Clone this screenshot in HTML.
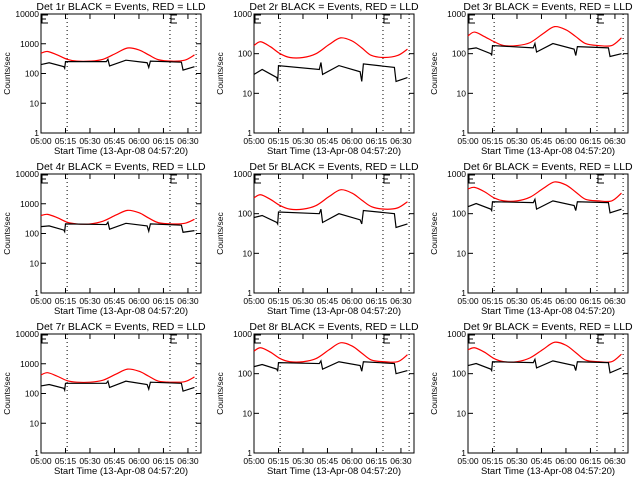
<!DOCTYPE html>
<html><head><meta charset="utf-8"><style>
body{margin:0;background:#fff}
svg{display:block;font-family:"Liberation Sans",sans-serif}
</style></head><body>
<svg id="c" width="640" height="480" xmlns="http://www.w3.org/2000/svg"></svg>
<script>
const panelNames = ["1r","2r","3r","4r","5r","6r","7r","8r","9r"];
const yMaxDecades = [4,3,3,4,3,3,4,3,3];
const xTickLabels = ["05:00","05:15","05:30","05:45","06:00","06:15","06:30"];
const xTickMinutes = [0,15,30,45,60,75,90];
const dottedMinutes = [16,79,95];
const eMarkMinutes = [0,79];
const redTimes = [0,4,10,16,22,30,38,46,53,60,66,72,80,88,94];
const blackTimes = [0,5,14,14.5,15,40,41,42,52,65,66,67,86,87,94];
const red1 = [480,550,420,300,260,260,300,480,720,620,420,290,260,280,420];
const red2 = [160,200,150,100,80,80,100,170,250,210,140,90,80,90,130];
const red3 = [280,350,270,200,160,160,190,320,480,400,270,180,160,160,250];
const red4 = [400,440,340,240,210,210,260,420,600,500,330,230,210,220,300];
const red5 = [250,300,230,160,130,130,160,270,400,330,220,150,130,140,200];
const red6 = [420,460,360,250,210,210,260,430,630,530,350,230,210,210,330];
const red7 = [420,500,380,270,240,240,280,450,660,560,380,260,240,250,360];
const red8 = [370,450,350,240,200,200,240,400,600,500,330,220,200,200,300];
const red9 = [400,450,350,240,200,200,250,410,620,520,340,220,200,200,310];
const black1 = [200,230,170,150,250,250,300,180,280,230,160,260,240,130,170];
const black2 = [30,40,25,20,50,40,60,30,50,35,20,55,45,20,25];
const black3 = [130,140,100,90,160,140,180,110,180,130,90,150,140,85,100];
const black4 = [170,180,130,115,210,200,240,140,220,180,120,210,190,110,125];
const black5 = [80,90,60,55,110,100,130,60,100,70,55,120,100,45,55];
const black6 = [150,180,130,120,200,190,230,130,210,160,120,200,190,105,130];
const black7 = [180,200,150,130,220,220,260,160,260,200,140,240,220,120,160];
const black8 = [150,170,130,115,190,180,210,130,200,160,115,200,180,100,120];
const black9 = [160,180,130,120,200,190,230,140,210,160,120,200,190,105,140];
const reds=[red1,red2,red3,red4,red5,red6,red7,red8,red9];
const blacks=[black1,black2,black3,black4,black5,black6,black7,black8,black9];

const svg=document.getElementById('c');
const NS="http://www.w3.org/2000/svg";
function mk(tag,attrs,parent){const e=document.createElementNS(NS,tag);for(const k in attrs)e.setAttribute(k,attrs[k]);(parent||svg).appendChild(e);return e;}
const colL=[41,254,468], rowT=[14,174,334], W=160, H=119, XMAX=98;

for(let p=0;p<9;p++){
  const L=colL[p%3], T=rowT[Math.floor(p/3)], B=T+H, R=L+W, dec=yMaxDecades[p];
  const g=mk('g',{});
  
  
  const xs=t=>L+t/XMAX*W;
  const ys=v=>B-Math.log10(v)/dec*H;
  const title=mk('text',{x:L+W/2,y:T-4,'text-anchor':'middle','font-size':'10.5'},g);
  title.textContent='Det '+panelNames[p]+' BLACK = Events, RED = LLD';
  
  
  const frame=mk('rect',{x:L,y:T,width:W,height:H,fill:'none',stroke:'#000','stroke-width':1},g);
  
  
  for(let d=0;d<=dec;d++){
    const y=ys(Math.pow(10,d));
    mk('line',{x1:L,x2:L+5,y1:y,y2:y,stroke:'#000'},g);
    mk('line',{x1:R-5,x2:R,y1:y,y2:y,stroke:'#000'},g);
    const lab=mk('text',{x:L-2,y:y+3,'text-anchor':'end','font-size':'8.5'},g);
    lab.textContent=String(Math.pow(10,d));
    
    
  }
  xTickMinutes.forEach((m,i)=>{
    const x=xs(m);
    mk('line',{x1:x,x2:x,y1:B,y2:B-5,stroke:'#000'},g);
    mk('line',{x1:x,x2:x,y1:T,y2:T+5,stroke:'#000'},g);
    const lab=mk('text',{x:x,y:B+11,'text-anchor':'middle','font-size':'8.5'},g);
    lab.textContent=xTickLabels[i];
    
    
  });
  dottedMinutes.forEach(m=>{
    const ln=mk('line',{x1:xs(m),x2:xs(m),y1:T,y2:B,stroke:'#000','stroke-dasharray':'1,3'},g);
    
    
  });
  eMarkMinutes.forEach(m=>{
    const x=xs(m)+1;
    const pth=mk('path',{d:`M${x+6},${T+1}H${x}V${T+9}H${x+6}M${x},${T+5}H${x+4}`,fill:'none',stroke:'#000'},g);
    
    
  });
  const rv=reds[p], bv=blacks[p];
  const rp=redTimes.map((t,i)=>[xs(t),ys(rv[i])]);
  let d='M'+rp[0][0]+','+rp[0][1];
  for(let i=0;i<rp.length-1;i++){
    const p0=rp[Math.max(0,i-1)],p1=rp[i],p2=rp[i+1],p3=rp[Math.min(rp.length-1,i+2)];
    d+=` C${p1[0]+(p2[0]-p0[0])/6},${p1[1]+(p2[1]-p0[1])/6} ${p2[0]-(p3[0]-p1[0])/6},${p2[1]-(p3[1]-p1[1])/6} ${p2[0]},${p2[1]}`;
  }
  const red=mk('path',{d:d,fill:'none',stroke:'#ff0000','stroke-width':1.2},g);
  
  
  let bd='';
  blackTimes.forEach((t,i)=>{bd+=(i?'L':'M')+xs(t)+','+ys(bv[i]);});
  const blk=mk('path',{d:bd,fill:'none',stroke:'#000','stroke-width':1.2},g);
  
  
  const yl=mk('text',{transform:`translate(${L-31},${T+H/2}) rotate(-90)`,'text-anchor':'middle','font-size':'8.5'},g);
  yl.textContent='Counts/sec';
  
  
  const xl=mk('text',{x:L+W/2,y:B+21,'text-anchor':'middle','font-size':'9.5'},g);
  xl.textContent='Start Time (13-Apr-08 04:57:20)';
  
  
}
</script>
</body></html>
